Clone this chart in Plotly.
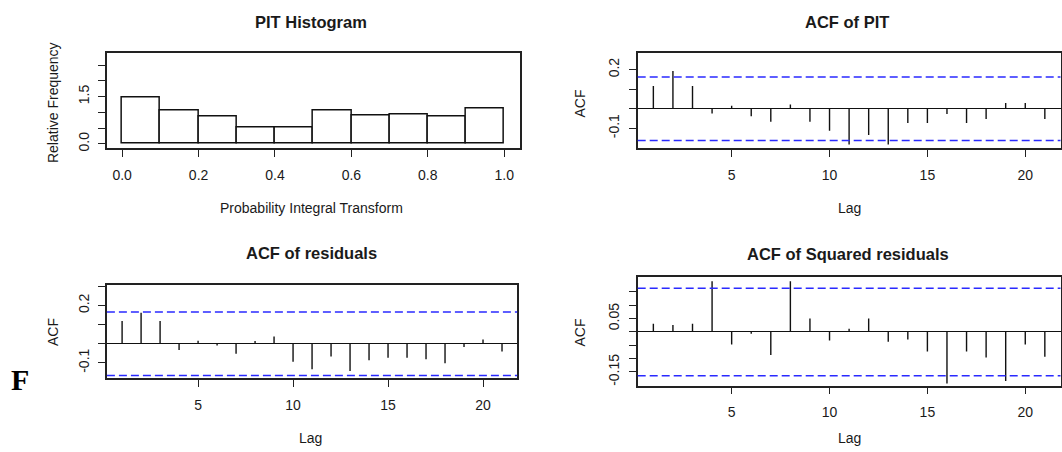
import plotly.graph_objects as go

# ---------------- data ----------------
pit_bin_left = [0.0, 0.1, 0.2, 0.3, 0.4, 0.5, 0.6, 0.7, 0.8, 0.9]
pit_density = [1.48, 1.06, 0.86, 0.51, 0.51, 1.06, 0.89, 0.93, 0.86, 1.13]

lags = list(range(1, 22))
acf_pit = [0.117, 0.193, 0.117, -0.024, 0.015, -0.039, -0.066, 0.022, -0.066, -0.113,
           -0.183, -0.134, -0.183, -0.073, -0.073, -0.027, -0.073, -0.052, 0.030, 0.030, -0.052]
acf_resid = [0.119, 0.162, 0.119, -0.033, 0.016, -0.010, -0.053, 0.014, 0.038, -0.095,
             -0.134, -0.067, -0.143, -0.086, -0.074, -0.074, -0.081, -0.102, -0.017, 0.022, -0.041]
acf_sq = [0.031, 0.026, 0.031, 0.190, -0.047, -0.007, -0.086, 0.190, 0.051, -0.032,
          0.012, 0.051, -0.037, -0.028, -0.073, -0.193, -0.073, -0.096, -0.184, -0.047, -0.093]
clim_pit = 0.163
clim_resid = 0.166
clim_sq = 0.164

# ---------------- layout helpers ----------------
W, H = 1062, 452


def px(x):
    return x / W


def py(y):
    return 1 - y / H


FONT = "Liberation Sans, Arial, sans-serif"
BOX = "#222222"

fig = go.Figure()

# Panel 1: PIT histogram
fig.add_trace(go.Bar(
    x=[b + 0.05 for b in pit_bin_left], y=pit_density, width=0.1,
    marker=dict(color="white", line=dict(color="#111111", width=1.5)),
    xaxis="x", yaxis="y", showlegend=False, hoverinfo="skip"))


def stems(xs, ys):
    sx, sy = [], []
    for a, b in zip(xs, ys):
        sx += [a, a, None]
        sy += [0, b, None]
    return sx, sy


for vals, xa, ya in [(acf_pit, "x2", "y2"), (acf_resid, "x3", "y3"), (acf_sq, "x4", "y4")]:
    sx, sy = stems(lags, vals)
    fig.add_trace(go.Scatter(x=sx, y=sy, mode="lines",
                             line=dict(color="#111111", width=1.4),
                             xaxis=xa, yaxis=ya, showlegend=False, hoverinfo="skip"))

# confidence lines
shapes = []
for clim, xa, ya in [(clim_pit, "x2", "y2"), (clim_resid, "x3", "y3"), (clim_sq, "x4", "y4")]:
    for v in (clim, -clim):
        shapes.append(dict(type="line", xref=xa + " domain", yref=ya,
                           x0=0, x1=1, y0=v, y1=v,
                           line=dict(color="#2a2aff", width=1.5, dash="8px,4px")))

common_axis = dict(showline=True, mirror=True, linecolor=BOX, linewidth=1.5,
                   ticks="outside", ticklen=7, tickwidth=1.3, tickcolor=BOX,
                   showgrid=False, zeroline=False,
                   tickfont=dict(family=FONT, size=14, color="#1a1a1a"))


def xaxis(domain, rng, tickvals, ticktext, anchor):
    d = dict(common_axis)
    d.update(domain=[px(domain[0]), px(domain[1])], range=rng, tickvals=tickvals,
             ticktext=ticktext, anchor=anchor, ticklabelstandoff=6)
    return d


def yaxis(domain, rng, tickvals, ticktext, anchor, zero=True):
    d = dict(common_axis)
    d.update(domain=[py(domain[1]), py(domain[0])], range=rng, tickvals=tickvals,
             ticktext=ticktext, anchor=anchor, tickangle=-90, ticklabelstandoff=4,
             zeroline=zero, zerolinecolor="#111111", zerolinewidth=1.3)
    return d


lag_ticks = [5, 10, 15, 20]
lag_text = ["5", "10", "15", "20"]

fig.update_layout(
    width=W, height=H, margin=dict(l=0, r=0, t=0, b=0),
    plot_bgcolor="white", paper_bgcolor="white",
    xaxis=xaxis((107, 520), [-0.04, 1.04], [0, 0.2, 0.4, 0.6, 0.8, 1.0],
                ["0.0", "0.2", "0.4", "0.6", "0.8", "1.0"], "y"),
    yaxis=yaxis((53, 149.3), [-0.13, 2.9], [0, 0.5, 1.0, 1.5, 2.0, 2.5],
                ["0.0", "", "", "1.5", "", ""], "x", zero=False),
    xaxis2=xaxis((638.3, 1061.5), [0.2, 21.8], lag_ticks, lag_text, "y2"),
    yaxis2=yaxis((53, 149.3), [-0.201, 0.288], [-0.1, 0.0, 0.1, 0.2],
                 ["-0.1", "", "", "0.2"], "x2"),
    xaxis3=xaxis((107, 517.7), [0.2, 21.8], lag_ticks, lag_text, "y3"),
    yaxis3=yaxis((287.7, 381.7), [-0.181, 0.306], [-0.1, 0.0, 0.1, 0.2, 0.3],
                 ["-0.1", "", "", "0.2", ""], "x3"),
    xaxis4=xaxis((638.3, 1061.5), [0.2, 21.8], lag_ticks, lag_text, "y4"),
    yaxis4=yaxis((279, 389), [-0.201, 0.208],
                 [-0.15, -0.10, -0.05, 0.0, 0.05, 0.10, 0.15],
                 ["-0.15", "", "", "", "0.05", "", ""], "x4"),
    shapes=shapes,
    bargap=0,
)

annotations = []


def ann(text, x, y, size, bold=False, angle=0, family=FONT, color="#1a1a1a"):
    annotations.append(dict(
        text=f"<b>{text}</b>" if bold else text, x=px(x), y=py(y),
        xref="paper", yref="paper", xanchor="center", yanchor="middle",
        showarrow=False, textangle=angle,
        font=dict(family=family, size=size, color=color)))


ann("PIT Histogram", 311.7, 21.7, 16.5, bold=True)
ann("ACF of PIT", 848, 22, 16.5, bold=True)
ann("ACF of residuals", 311.7, 255, 16.5, bold=True)
ann("ACF of Squared residuals", 849, 256, 16.5, bold=True)

ann("Probability Integral Transform", 312, 210, 14)
ann("Lag", 850, 210, 14)
ann("Lag", 311, 442, 14)
ann("Lag", 850, 442, 14)

ann("Relative Frequency", 53, 103, 14, angle=-90)
ann("ACF", 581, 104, 14, angle=-90)
ann("ACF", 53, 335, 14, angle=-90)
ann("ACF", 581, 335, 14, angle=-90)

ann("F", 20.5, 382.5, 30, bold=True, family="Liberation Serif, Times New Roman, serif", color="#000000")

fig.update_layout(annotations=annotations)

fig.write_html("out.html", config={"displayModeBar": False},
               post_script="document.body.style.margin='0px';document.body.style.overflow='hidden';")
